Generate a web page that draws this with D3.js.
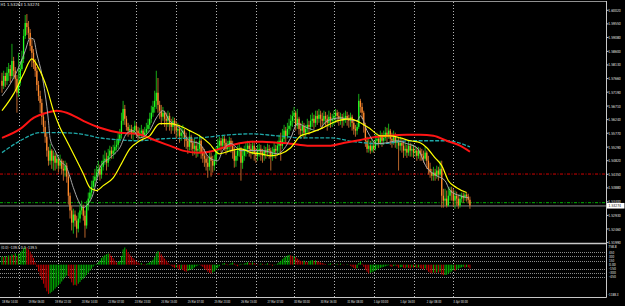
<!DOCTYPE html>
<html>
<head>
<meta charset="utf-8">
<script src="https://cdn.jsdelivr.net/npm/d3@7"></script>
<style>
html, body { margin: 0; padding: 0; background: #000; overflow: hidden; }
svg { display: block; }
text { font-family: "DejaVu Sans", sans-serif; fill: #e6e6e6; }
</style>
</head>
<body>
<svg id="chart" width="625" height="306"></svg>
<script>
// ---- Data (H1 bars, 18 Mar 14:00 .. 3 Apr) ----
const firstOpen = 1.5758;

const closes = [
  1.5741,1.5775,1.5758,1.5786,1.5799,1.5775,1.5827,1.5793,1.5765,1.5717,
  1.5751,1.5799,1.5834,1.5913,1.5958,1.5944,1.5924,1.5879,1.5855,1.5820,
  1.5793,1.5744,1.5706,1.5682,1.5634,1.5599,1.5565,1.5517,1.5482,1.5517,
  1.5482,1.5499,1.5475,1.5489,1.5465,1.5482,1.5454,1.5448,1.5465,1.5427,
  1.5361,1.5310,1.5268,1.5296,1.5275,1.5247,1.5282,1.5310,1.5323,1.5292,
  1.5258,1.5327,1.5351,1.5372,1.5392,1.5413,1.5427,1.5441,1.5454,1.5434,
  1.5461,1.5482,1.5489,1.5475,1.5499,1.5517,1.5506,1.5517,1.5530,1.5537,
  1.5558,1.5572,1.5620,1.5661,1.5627,1.5599,1.5586,1.5592,1.5575,1.5586,
  1.5603,1.5586,1.5568,1.5579,1.5586,1.5568,1.5579,1.5592,1.5606,1.5627,
  1.5648,1.5668,1.5689,1.5717,1.5675,1.5655,1.5634,1.5648,1.5627,1.5620,
  1.5637,1.5613,1.5599,1.5620,1.5603,1.5586,1.5592,1.5568,1.5579,1.5586,
  1.5558,1.5551,1.5530,1.5565,1.5544,1.5523,1.5534,1.5517,1.5523,1.5551,
  1.5510,1.5499,1.5489,1.5475,1.5461,1.5496,1.5482,1.5465,1.5482,1.5517,
  1.5534,1.5551,1.5534,1.5558,1.5544,1.5523,1.5534,1.5551,1.5534,1.5517,
  1.5482,1.5499,1.5517,1.5523,1.5475,1.5499,1.5517,1.5523,1.5534,1.5523,
  1.5517,1.5534,1.5510,1.5499,1.5517,1.5523,1.5510,1.5499,1.5517,1.5510,
  1.5523,1.5517,1.5499,1.5510,1.5523,1.5517,1.5534,1.5551,1.5534,1.5558,
  1.5586,1.5568,1.5592,1.5603,1.5620,1.5637,1.5648,1.5603,1.5627,1.5592,
  1.5586,1.5603,1.5579,1.5592,1.5606,1.5599,1.5620,1.5627,1.5613,1.5637,
  1.5627,1.5641,1.5627,1.5620,1.5637,1.5627,1.5613,1.5634,1.5620,1.5627,
  1.5637,1.5648,1.5637,1.5627,1.5634,1.5620,1.5630,1.5637,1.5627,1.5620,
  1.5634,1.5613,1.5592,1.5586,1.5599,1.5689,1.5668,1.5648,1.5603,1.5551,
  1.5523,1.5534,1.5517,1.5534,1.5523,1.5551,1.5558,1.5544,1.5568,1.5551,
  1.5561,1.5579,1.5568,1.5586,1.5558,1.5551,1.5568,1.5544,1.5551,1.5534,
  1.5544,1.5534,1.5517,1.5523,1.5510,1.5534,1.5517,1.5523,1.5510,1.5517,
  1.5499,1.5517,1.5506,1.5499,1.5489,1.5510,1.5482,1.5454,1.5441,1.5430,
  1.5441,1.5430,1.5448,1.5434,1.5454,1.5361,1.5344,1.5351,1.5327,1.5361,
  1.5379,1.5372,1.5344,1.5361,1.5351,1.5327,1.5351,1.5361,1.5354,1.5365,
  1.5358,1.5347,1.5327
];

const highs = [
  1.5786,1.5793,1.5786,1.5806,1.5820,1.5813,1.5886,1.5841,1.5806,1.5779,
  1.5855,1.5827,1.5862,1.5937,1.5986,1.5989,1.5965,1.5937,1.5903,1.5868,
  1.5834,1.5806,1.5758,1.5724,1.5696,1.5648,1.5620,1.5579,1.5530,1.5541,
  1.5523,1.5517,1.5510,1.5506,1.5496,1.5503,1.5489,1.5482,1.5482,1.5475,
  1.5441,1.5372,1.5327,1.5316,1.5310,1.5292,1.5303,1.5330,1.5344,1.5330,
  1.5310,1.5344,1.5372,1.5392,1.5413,1.5430,1.5454,1.5465,1.5482,1.5468,
  1.5482,1.5503,1.5517,1.5510,1.5523,1.5534,1.5530,1.5537,1.5551,1.5558,
  1.5579,1.5592,1.5648,1.5689,1.5675,1.5637,1.5613,1.5606,1.5606,1.5599,
  1.5620,1.5613,1.5599,1.5596,1.5606,1.5592,1.5599,1.5613,1.5627,1.5648,
  1.5672,1.5689,1.5724,1.5793,1.5768,1.5689,1.5675,1.5668,1.5655,1.5648,
  1.5655,1.5648,1.5627,1.5634,1.5630,1.5620,1.5613,1.5606,1.5599,1.5606,
  1.5592,1.5579,1.5565,1.5586,1.5572,1.5558,1.5558,1.5551,1.5544,1.5572,
  1.5558,1.5530,1.5523,1.5510,1.5496,1.5517,1.5510,1.5499,1.5503,1.5530,
  1.5558,1.5565,1.5561,1.5572,1.5568,1.5558,1.5551,1.5565,1.5561,1.5551,
  1.5530,1.5517,1.5534,1.5541,1.5530,1.5517,1.5534,1.5544,1.5551,1.5548,
  1.5541,1.5551,1.5544,1.5527,1.5537,1.5541,1.5537,1.5523,1.5534,1.5530,
  1.5541,1.5537,1.5527,1.5530,1.5544,1.5537,1.5551,1.5572,1.5579,1.5592,
  1.5606,1.5599,1.5613,1.5627,1.5641,1.5655,1.5668,1.5655,1.5661,1.5634,
  1.5613,1.5620,1.5613,1.5606,1.5627,1.5620,1.5641,1.5648,1.5641,1.5655,
  1.5655,1.5661,1.5655,1.5648,1.5655,1.5651,1.5641,1.5655,1.5648,1.5644,
  1.5655,1.5661,1.5658,1.5651,1.5648,1.5644,1.5648,1.5655,1.5651,1.5641,
  1.5648,1.5641,1.5620,1.5606,1.5613,1.5713,1.5696,1.5682,1.5655,1.5613,
  1.5565,1.5558,1.5551,1.5558,1.5551,1.5572,1.5579,1.5572,1.5586,1.5579,
  1.5586,1.5599,1.5596,1.5610,1.5592,1.5579,1.5586,1.5579,1.5572,1.5565,
  1.5565,1.5558,1.5551,1.5544,1.5537,1.5551,1.5544,1.5541,1.5537,1.5534,
  1.5530,1.5530,1.5527,1.5523,1.5517,1.5530,1.5517,1.5499,1.5475,1.5454,
  1.5461,1.5454,1.5465,1.5461,1.5482,1.5482,1.5385,1.5385,1.5379,1.5389,
  1.5392,1.5392,1.5385,1.5379,1.5375,1.5365,1.5368,1.5372,1.5372,1.5372,
  1.5372,1.5368,1.5358
];

const lows = [
  1.5717,1.5730,1.5737,1.5744,1.5758,1.5751,1.5765,1.5772,1.5724,1.5648,
  1.5703,1.5741,1.5793,1.5820,1.5903,1.5917,1.5903,1.5862,1.5806,1.5799,
  1.5772,1.5724,1.5689,1.5648,1.5606,1.5579,1.5544,1.5496,1.5465,1.5468,
  1.5454,1.5448,1.5448,1.5454,1.5441,1.5454,1.5434,1.5413,1.5427,1.5406,
  1.5330,1.5282,1.5241,1.5230,1.5254,1.5216,1.5234,1.5268,1.5296,1.5275,
  1.5216,1.5247,1.5310,1.5337,1.5358,1.5379,1.5392,1.5413,1.5427,1.5413,
  1.5420,1.5448,1.5468,1.5448,1.5461,1.5482,1.5489,1.5489,1.5503,1.5517,
  1.5523,1.5544,1.5558,1.5606,1.5606,1.5586,1.5565,1.5572,1.5558,1.5551,
  1.5572,1.5565,1.5551,1.5558,1.5561,1.5551,1.5558,1.5565,1.5579,1.5592,
  1.5613,1.5634,1.5648,1.5661,1.5648,1.5627,1.5606,1.5620,1.5599,1.5586,
  1.5599,1.5586,1.5575,1.5586,1.5575,1.5558,1.5565,1.5544,1.5551,1.5558,
  1.5530,1.5523,1.5506,1.5517,1.5517,1.5499,1.5503,1.5492,1.5496,1.5510,
  1.5489,1.5475,1.5461,1.5448,1.5423,1.5448,1.5427,1.5441,1.5448,1.5468,
  1.5503,1.5517,1.5510,1.5523,1.5517,1.5503,1.5510,1.5517,1.5510,1.5489,
  1.5458,1.5461,1.5482,1.5496,1.5413,1.5454,1.5482,1.5496,1.5506,1.5496,
  1.5489,1.5503,1.5482,1.5475,1.5482,1.5496,1.5482,1.5475,1.5482,1.5489,
  1.5496,1.5489,1.5448,1.5482,1.5492,1.5489,1.5499,1.5510,1.5482,1.5523,
  1.5544,1.5544,1.5558,1.5572,1.5586,1.5599,1.5613,1.5586,1.5592,1.5572,
  1.5558,1.5565,1.5558,1.5565,1.5579,1.5572,1.5586,1.5599,1.5592,1.5599,
  1.5606,1.5613,1.5599,1.5592,1.5606,1.5603,1.5586,1.5599,1.5596,1.5599,
  1.5606,1.5613,1.5613,1.5603,1.5606,1.5596,1.5603,1.5613,1.5603,1.5596,
  1.5599,1.5586,1.5572,1.5565,1.5572,1.5592,1.5648,1.5627,1.5579,1.5530,
  1.5510,1.5510,1.5506,1.5510,1.5510,1.5517,1.5534,1.5527,1.5537,1.5530,
  1.5537,1.5551,1.5544,1.5558,1.5537,1.5527,1.5537,1.5527,1.5523,1.5448,
  1.5517,1.5510,1.5492,1.5499,1.5492,1.5499,1.5496,1.5496,1.5492,1.5496,
  1.5482,1.5489,1.5482,1.5482,1.5475,1.5482,1.5454,1.5434,1.5423,1.5413,
  1.5413,1.5413,1.5420,1.5413,1.5427,1.5320,1.5320,1.5327,1.5320,1.5323,
  1.5344,1.5344,1.5323,1.5316,1.5327,1.5316,1.5320,1.5337,1.5337,1.5344,
  1.5341,1.5334,1.5316
];

// moving averages: [bar, price]
const maFast = [
  [0,1.5706],[7,1.5768],[11,1.5817],[14,1.5862],[17,1.5906],[19,1.5903],[21,1.5851],
  [24,1.5782],[26,1.5713],[28,1.5620],[29,1.5558],[32,1.5517],[35,1.5482],[39,1.5458],
  [43,1.5389],[46,1.5344],[49,1.5320],[52,1.5334],[55,1.5368],[57,1.5413],[59,1.5458],
  [65,1.5492],[71,1.5527],[75,1.5575],[79,1.5586],[83,1.5561],[89,1.5586],[93,1.5630],
  [97,1.5655],[101,1.5620],[107,1.5596],[113,1.5551],[119,1.5541],[125,1.5492],[130,1.5482],
  [133,1.5517],[138,1.5541],[144,1.5517],[150,1.5517],[157,1.5517],[166,1.5506],[174,1.5561],
  [178,1.5610],[184,1.5596],[190,1.5586],[196,1.5620],[204,1.5630],[214,1.5620],[216,1.5637],
  [220,1.5586],[226,1.5541],[232,1.5544],[238,1.5551],[244,1.5541],[250,1.5527],[256,1.5458],
  [262,1.5430],[267,1.5413],[270,1.5379],[276,1.5361],[281,1.5354]
];
const maMid = [
  [0,1.5655],[7,1.5713],[13,1.5782],[18,1.5834],[22,1.5803],[27,1.5734],[31,1.5655],
  [35,1.5596],[39,1.5551],[43,1.5506],[49,1.5437],[53,1.5389],[57,1.5379],[61,1.5396],
  [67,1.5423],[72,1.5472],[77,1.5523],[83,1.5551],[89,1.5568],[95,1.5610],[101,1.5610],
  [107,1.5603],[113,1.5586],[119,1.5568],[125,1.5541],[131,1.5506],[138,1.5517],[144,1.5523],
  [150,1.5510],[156,1.5506],[162,1.5499],[168,1.5506],[174,1.5527],[180,1.5568],[186,1.5579],
  [192,1.5592],[202,1.5620],[210,1.5627],[216,1.5613],[222,1.5592],[228,1.5568],[234,1.5568],
  [240,1.5561],[246,1.5551],[252,1.5544],[256,1.5527],[261,1.5492],[265,1.5465],[269,1.5413],
  [274,1.5389],[280,1.5372]
];
const maSlow = [
  [0,1.5561],[11,1.5592],[19,1.5630],[27,1.5648],[33,1.5655],[39,1.5648],[49,1.5620],
  [59,1.5596],[71,1.5579],[81,1.5575],[93,1.5551],[101,1.5534],[109,1.5517],[118,1.5510],
  [125,1.5513],[133,1.5527],[142,1.5541],[150,1.5548],[157,1.5548],[166,1.5544],[174,1.5541],
  [184,1.5534],[198,1.5534],[204,1.5541],[216,1.5554],[222,1.5561],[232,1.5568],[244,1.5572],
  [252,1.5572],[260,1.5568],[268,1.5551],[276,1.5534],[282,1.5513]
];
const maLong = [
  [0,1.5510],[11,1.5551],[23,1.5579],[35,1.5579],[47,1.5575],[59,1.5561],[71,1.5554],
  [81,1.5551],[97,1.5558],[118,1.5561],[138,1.5572],[150,1.5575],[166,1.5568],[182,1.5561],
  [198,1.5561],[212,1.5548],[228,1.5541],[246,1.5551],[268,1.5551],[282,1.5530]
];

// oscillator histogram, one value per bar
const oscValues = [
  300,280,320,290,340,310,380,360,420,300,400,450,
  520,600,640,620,560,480,380,250,80,
  -80,-250,-420,-560,-700,-850,-980,-1080,
  -1050,-1000,-950,-880,-820,-760,-700,-620,-540,-460,-400,
  -420,-520,-650,-760,-740,-770,-700,
  -640,-560,-520,-450,-380,-300,-220,-150,-70,-20,30,
  100,160,240,300,350,380,410,400,320,240,150,80,
  100,140,320,560,630,560,460,380,300,240,180,120,
  80,40,60,20,-20,30,60,90,120,180,
  280,420,500,460,380,300,220,150,80,20,
  -40,-90,-120,-100,-140,-180,-160,-200,-240,-260,-230,-200,-180,-150,
  -100,-60,-30,-10,-40,-80,
  -150,-200,-260,-300,-320,-290,-250,-180,-120,
  -60,0,40,60,30,-20,20,50,80,40,
  -30,-60,-20,30,-10,40,60,90,70,50,
  80,60,20,-20,10,40,30,-10,20,50,
  30,-10,-40,-20,10,40,90,140,
  200,260,300,330,360,340,300,320,280,220,180,140,
  120,150,110,90,130,150,170,140,160,120,
  100,80,60,40,20,0,30,50,20,-10,
  10,30,20,40,10,-20,0,20,-10,-40,
  -80,-120,-150,-130,60,120,40,-80,
  -180,-260,-320,-300,-280,-250,-220,-180,
  -150,-120,-100,-80,-60,-40,-20,-60,-80,-50,
  -30,-60,-120,-100,-90,-110,-130,-100,-120,-140,
  -100,-110,-90,-120,-100,-130,
  -150,-170,-140,-200,-260,-300,-320,-290,-310,-280,-300,-260,
  -360,-390,-380,-370,-330,-290,
  -250,-200,-230,-180,-150,-120,-100,-80,-110,-90,-100,-140
];

const priceTicks = ["1.60020","1.59550","1.59080","1.58600","1.58130","1.57660","1.57190","1.56710",
  "1.56240","1.55770","1.55290","1.54820","1.54350","1.53880","1.53400","1.52930","1.52460","1.51990"];
const oscLevels = [450, 300, 150, -150, -300, -450];
const oscLabels = ["450","300","150","0.00","-150","-300","-450"];
const oscLabelVals = [450, 300, 150, 0, -150, -300, -450];
const oscMax = 758.8, oscMin = -1188.3;

const timeLabels = ["18 Mar 14:00","19 Mar 06:00","19 Mar 22:00","20 Mar 14:00","23 Mar 07:00",
  "23 Mar 23:00","24 Mar 15:00","25 Mar 07:00","25 Mar 23:00","26 Mar 15:00","27 Mar 07:00",
  "30 Mar 00:00","30 Mar 16:00","31 Mar 08:00","1 Apr 00:00","1 Apr 16:00","2 Apr 08:00","3 Apr 00:00"];
const labelEvery = 16;
const dayStartBars = [10, 34, 57, 81, 105, 129, 153, 176, 200, 224, 248, 272];

const bidPrice = 1.53274;
const redLevel = 1.5436;
const greenLevel = 1.5337;
const headerText = "H1 1.53263 1.53274";
const oscHeader = "(0.0) -139.5 0.0 -139.5";

// ---- Layout ----
const W = 625, H = 306;
const plotRight = 606.5;
const mainTop = 2, mainBottom = 243;
const oscTop = 244, oscBottom = 297;
const FS = 4.2;

const x = d3.scaleLinear().domain([-1.2, 364]).range([0, 606]);
const y = d3.scaleLinear().domain([1.52460, 1.60020]).range([229, 10.3]);
const yOsc = d3.scaleLinear().domain([oscMin, oscMax]).range([oscBottom, oscTop]);

const svg = d3.select("#chart");
svg.append("rect").attr("width", W).attr("height", H).attr("fill", "#000");

const defs = svg.append("defs");
defs.append("clipPath").attr("id", "clipMain").append("rect")
  .attr("x", 0).attr("y", mainTop).attr("width", plotRight).attr("height", mainBottom - mainTop);
defs.append("clipPath").attr("id", "clipOsc").append("rect")
  .attr("x", 0).attr("y", oscTop).attr("width", plotRight).attr("height", oscBottom - oscTop);

function smallText(g, str, tx, ty, len) {
  return g.append("text").attr("x", tx).attr("y", ty)
    .attr("font-size", FS)
    .attr("textLength", len).attr("lengthAdjust", "spacingAndGlyphs")
    .text(str);
}

// vertical grid (day starts)
svg.append("g").selectAll("line").data(dayStartBars).join("line")
  .attr("x1", d => Math.round(x(d)) + 0.5).attr("x2", d => Math.round(x(d)) + 0.5)
  .attr("y1", mainTop).attr("y2", oscBottom)
  .attr("stroke", "#b4b4b4").attr("stroke-width", 1).attr("stroke-dasharray", "1,2");

// horizontal levels in main window
const gMain = svg.append("g").attr("clip-path", "url(#clipMain)");
gMain.append("line").attr("x1", 0).attr("x2", plotRight)
  .attr("y1", y(redLevel)).attr("y2", y(redLevel))
  .attr("stroke", "#d00000").attr("stroke-dasharray", "3,1.5,1,1.5");
gMain.append("line").attr("x1", 0).attr("x2", plotRight)
  .attr("y1", y(greenLevel)).attr("y2", y(greenLevel))
  .attr("stroke", "#00b000").attr("stroke-dasharray", "3,1.5,1,1.5");
gMain.append("line").attr("x1", 0).attr("x2", plotRight)
  .attr("y1", y(bidPrice) + 0.5).attr("y2", y(bidPrice) + 0.5)
  .attr("stroke", "#8a8a8a").attr("stroke-width", 1);

// candles
const bars = closes.map((c, i) => ({
  i, c, h: highs[i], l: lows[i], o: i === 0 ? firstOpen : closes[i - 1]
}));
gMain.append("g").selectAll("line").data(bars).join("line")
  .attr("x1", d => x(d.i)).attr("x2", d => x(d.i))
  .attr("y1", d => y(Math.max(d.h, d.o, d.c))).attr("y2", d => y(Math.min(d.l, d.o, d.c)))
  .attr("stroke", d => d.c >= d.o ? "#16a816" : "#b8642a").attr("stroke-width", 1);
gMain.append("g").selectAll("rect").data(bars).join("rect")
  .attr("x", d => x(d.i) - 0.65).attr("width", 1.3)
  .attr("y", d => y(Math.max(d.o, d.c)))
  .attr("height", d => Math.max(0.8, Math.abs(y(d.o) - y(d.c))))
  .attr("fill", d => d.c >= d.o ? "#22ff22" : "#ff8a2a");

// moving averages
const maLine = d3.line().x(d => x(d[0])).y(d => y(d[1])).curve(d3.curveMonotoneX);
gMain.append("path").datum(maLong).attr("d", maLine).attr("fill", "none")
  .attr("stroke", "#1fa8a8").attr("stroke-width", 1.3).attr("stroke-dasharray", "4,1.5");
gMain.append("path").datum(maSlow).attr("d", maLine).attr("fill", "none")
  .attr("stroke", "#ff1414").attr("stroke-width", 2);
gMain.append("path").datum(maFast).attr("d", maLine).attr("fill", "none")
  .attr("stroke", "#a8a8a8").attr("stroke-width", 1);
gMain.append("path").datum(maMid).attr("d", maLine).attr("fill", "none")
  .attr("stroke", "#ffff00").attr("stroke-width", 1.2);

// oscillator window
const gOsc = svg.append("g").attr("clip-path", "url(#clipOsc)");
gOsc.append("g").selectAll("line").data(oscLevels).join("line")
  .attr("x1", 0).attr("x2", plotRight)
  .attr("y1", d => Math.round(yOsc(d)) + 0.5).attr("y2", d => Math.round(yOsc(d)) + 0.5)
  .attr("stroke", "#8c8c8c").attr("stroke-dasharray", "1,1");
gOsc.append("g").selectAll("line").data(oscValues).join("line")
  .attr("x1", (d, i) => x(i)).attr("x2", (d, i) => x(i))
  .attr("y1", yOsc(0)).attr("y2", d => yOsc(d))
  .attr("stroke", (d, i) => (i === 0 || d >= oscValues[i - 1]) ? "#00b400" : "#c00000")
  .attr("stroke-width", 1);

// frame
const frame = svg.append("g").attr("stroke", "#c8c8c8").attr("stroke-width", 1);
frame.append("line").attr("x1", 0).attr("x2", plotRight).attr("y1", 1.5).attr("y2", 1.5).attr("stroke", "#909090");
frame.append("line").attr("x1", 0).attr("x2", plotRight).attr("y1", 243.5).attr("y2", 243.5).attr("stroke-width", 1.5);
frame.append("line").attr("x1", 0).attr("x2", plotRight).attr("y1", oscBottom + 0.5).attr("y2", oscBottom + 0.5);
frame.append("line").attr("x1", plotRight).attr("x2", plotRight).attr("y1", 1).attr("y2", oscBottom + 0.5);

// price axis
const axisG = svg.append("g");
priceTicks.forEach(t => {
  const ty = y(+t);
  axisG.append("line").attr("x1", plotRight).attr("x2", plotRight + 2)
    .attr("y1", ty).attr("y2", ty).attr("stroke", "#c8c8c8");
  smallText(axisG, t, 608.3, ty + 1.5, 12.4);
});
// bid label
axisG.append("rect").attr("x", 607).attr("y", y(bidPrice) - 2.5).attr("width", 17.5).attr("height", 5.6)
  .attr("fill", "#ffffff");
smallText(axisG, "1.53274", 608.6, y(bidPrice) + 1.8, 12.4).style("fill", "#000");

// oscillator axis
smallText(axisG, oscMax.toFixed(1), 608.3, oscTop + 4.3, 8.3);
smallText(axisG, oscMin.toFixed(1), 608, oscBottom - 1.4, 10.5);
oscLabels.forEach((t, k) => {
  const ty = yOsc(oscLabelVals[k]);
  smallText(axisG, t, 609, ty + 1.5, t.length * 1.7);
});

// time axis
timeLabels.forEach((t, k) => {
  smallText(axisG, t, x(k * labelEvery), 302.6, t.length * 1.32);
});

// headers
smallText(svg, headerText, 0.5, 5.8, 39);
smallText(svg, oscHeader, 1, 249.3, 36);
</script>
</body>
</html>
